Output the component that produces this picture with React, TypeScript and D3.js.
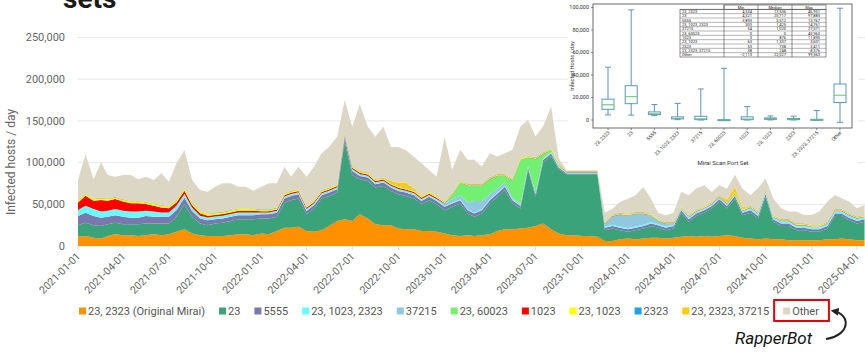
import React, { useEffect, useRef } from 'react';
import * as d3 from 'd3';

// port sets, bottom to top of the stack
const seriesKeys = ['23, 2323 (Original Mirai)', '23', '5555', '23, 1023, 2323', '37215', '23, 60023', '1023', '23, 1023', '2323', '23, 2323, 37215', 'Other'];
const seriesColors = ['#ff9000', '#3ba37a', '#7b78b0', '#66ffff', '#8fc8df', '#72f072', '#ff0000', '#ffff00', '#1e9ff2', '#ffcc00', '#dcd6c5'];

// infected hosts per day, in thousands, sampled on the 1st and 16th of each month (2021-01-01 .. 2025-04-16)
const port23_2323 = [
  11, 12, 10, 9, 12, 14, 13, 13, 12, 13, 14, 13, 14, 17, 20, 15, 13, 12, 12, 12, 13, 14, 14, 13,
  15, 14, 18, 22, 22, 23, 18, 17, 19, 24, 30, 32, 30, 38, 33, 26, 25, 25, 21, 20, 20, 18, 18, 17,
  15, 13, 12, 13, 12, 13, 14, 18, 20, 20, 21, 22, 24, 27, 20, 15, 13, 13, 12, 12, 11, 6, 6, 8,
  9, 8, 9, 10, 10, 9, 10, 11, 12, 11, 12, 11, 12, 13, 12, 10, 9, 8, 9, 8, 8, 7, 7, 7,
  7, 7, 8, 8, 9, 8, 7, 7];
const port23 = [
  14, 16, 15, 15, 14, 14, 13, 13, 14, 14, 13, 14, 13, 18, 30, 20, 14, 13, 15, 16, 17, 18, 18, 19,
  18, 19, 17, 30, 33, 34, 20, 28, 38, 36, 34, 93, 55, 42, 45, 44, 47, 41, 41, 40, 37, 32, 37, 33,
  28, 34, 39, 26, 23, 26, 37, 41, 47, 31, 24, 69, 35, 73, 88, 77, 73, 73, 74, 74, 75, 13, 15, 11,
  8, 11, 12, 14, 12, 10, 11, 29, 17, 25, 28, 34, 41, 32, 45, 27, 31, 25, 50, 21, 16, 17, 12, 12,
  10, 10, 13, 28, 27, 23, 20, 22];
const port5555 = [
  11, 12, 11, 10, 9, 9, 9, 8, 8, 9, 8, 8, 8, 8, 8, 7, 6, 6, 5, 5, 5, 5, 5, 5,
  5, 5, 5, 5, 5, 5, 4, 4, 4, 4, 4, 5, 5, 4, 4, 4, 4, 4, 4, 4, 4, 4, 4, 4,
  4, 4, 4, 4, 4, 4, 4, 4, 4, 4, 3, 3, 3, 3, 3, 2, 1, 1, 1, 1, 1, 3, 3, 3,
  3, 3, 3, 3, 3, 3, 3, 3, 3, 3, 3, 3, 3, 3, 3, 3, 3, 3, 3, 3, 3, 3, 3, 3,
  3, 3, 3, 3, 3, 3, 3, 3];
const port23_1023_2323 = [
  7, 8, 8, 7, 7, 7, 7, 7, 7, 6, 6, 5, 5, 5, 4, 4, 3, 3, 3, 3, 3, 3, 3, 3,
  2, 2, 2, 2, 2, 2, 2, 2, 2, 2, 2, 2, 2, 2, 2, 2, 2, 2, 2, 2, 2, 2, 2, 2,
  1, 1, 1, 1, 1, 1, 1, 1, 1, 1, 1, 1, 1, 1, 1, 1, 0.5, 0.5, 0.5, 0.5, 0.5, 1.5, 1.5, 1.5,
  1.5, 1.5, 1.5, 1.5, 1.5, 1.5, 1.5, 1.5, 1.5, 1.5, 1.5, 1.5, 1.5, 1.5, 1.5, 1.5, 2, 2, 2, 2, 2, 2, 2, 2,
  2, 2, 2, 2, 2, 2, 2, 2];
const port37215 = [
  0.3, 0.3, 0.3, 0.3, 0.3, 0.3, 0.3, 0.3, 0.3, 0.3, 0.3, 0.3, 0.3, 0.3, 0.3, 0.3, 0.3, 0.3, 0.3, 0.3, 0.3, 0.3, 0.3, 0.3,
  0.3, 0.3, 0.3, 0.3, 0.3, 0.3, 0.3, 0.3, 0.3, 0.3, 0.3, 0.3, 0.3, 0.3, 0.3, 0.3, 0.3, 0.3, 0.3, 0.3, 0.3, 0.3, 0.3, 0.3,
  3, 4, 5, 8, 14, 10, 6, 5, 4, 2, 1, 1, 1, 1, 1, 1, 1, 1, 1, 1, 1, 3, 10, 14,
  15, 15, 13, 8, 4, 3, 1, 1, 1, 1, 1, 1, 1, 1, 1, 1, 1, 1, 1, 1, 1, 1, 1, 1,
  1, 1, 1, 1, 1, 1, 1, 1];
const port23_60023 = [
  0, 0, 0, 0, 0, 0, 0, 0, 0, 0, 0, 0, 0, 0, 0, 0, 0, 0, 0, 0, 0, 0, 0, 0,
  0, 0, 0, 0, 0, 0, 0, 0, 0, 0, 0, 0, 0, 0, 0, 0, 0, 0, 0, 0, 0, 0, 0, 0,
  0, 5, 15, 20, 18, 18, 18, 15, 8, 20, 53, 10, 40, 5, 2, 1, 0, 0, 0, 0, 0, 0, 0, 0,
  0, 0, 0, 0, 0, 0, 0, 0, 0, 0, 0, 0, 0, 0, 0, 0, 0, 0, 0, 0, 0, 0, 0, 0,
  0, 0, 0, 0, 0, 0, 0, 0];
const port1023 = [
  9, 12, 10, 14, 12, 12, 11, 10, 10, 8, 7, 6, 5, 4, 4, 3, 3, 2, 2, 2, 2, 2, 2, 2,
  1.5, 1.5, 1.5, 1.5, 1.5, 1.5, 1.5, 1.5, 1.5, 1.5, 1.5, 1.5, 1.5, 1.5, 1.5, 1.5, 1.5, 1.5, 1.5, 1.5, 1.5, 1.5, 1.5, 1.5,
  0.5, 0.5, 0.5, 0.5, 0.5, 0.5, 0.5, 0.5, 0.5, 0.5, 0.5, 0.5, 0.5, 0.5, 0.5, 0.5, 0.5, 0.5, 0.5, 0.5, 0.5, 0.5, 0.5, 0.5,
  0.5, 0.5, 0.5, 0.5, 0.5, 0.5, 0.5, 0.5, 0.5, 0.5, 0.5, 0.5, 0.5, 0.5, 0.5, 0.5, 0.5, 0.5, 0.5, 0.5, 0.5, 0.5, 0.5, 0.5,
  0.5, 0.5, 0.5, 0.5, 0.5, 0.5, 0.5, 0.5];
const port23_1023 = [
  2, 2, 2, 2, 2, 2, 2, 2, 2, 2, 2, 2, 2, 2, 2, 2, 2, 2, 2, 2, 2, 2, 2, 2,
  1.5, 1.5, 1.5, 1.5, 1.5, 1.5, 1.5, 1.5, 1.5, 1.5, 1.5, 1.5, 1.5, 1.5, 1.5, 1.5, 1.5, 1.5, 1.5, 1.5, 1.5, 1.5, 1.5, 1.5,
  1, 1, 1, 1, 1, 1, 1, 1, 1, 1, 1, 1, 1, 1, 1, 1, 0.5, 0.5, 0.5, 0.5, 0.5, 1, 1, 1,
  1, 1, 1, 1, 1, 1, 1, 1, 1, 1, 1, 1, 1, 1, 1, 1, 1, 1, 1, 1, 1, 1, 1, 1,
  1, 1, 1, 1, 1, 1, 1, 1];
const port2323 = [
  0.5, 0.5, 0.5, 0.5, 0.5, 0.5, 0.5, 0.5, 0.5, 0.5, 0.5, 0.5, 0.5, 0.5, 0.5, 0.5, 0.5, 0.5, 0.5, 0.5, 0.5, 0.5, 0.5, 0.5,
  0.5, 0.5, 0.5, 0.5, 0.5, 0.5, 0.5, 0.5, 0.5, 0.5, 0.5, 0.5, 0.5, 0.5, 0.5, 0.5, 0.5, 0.5, 0.5, 0.5, 0.5, 0.5, 0.5, 0.5,
  0.5, 0.5, 0.5, 0.5, 0.5, 0.5, 0.5, 0.5, 0.5, 0.5, 0.5, 0.5, 0.5, 0.5, 0.5, 0.5, 0.5, 0.5, 0.5, 0.5, 0.5, 0.5, 0.5, 0.5,
  0.5, 0.5, 0.5, 0.5, 0.5, 0.5, 0.5, 0.5, 0.5, 0.5, 0.5, 0.5, 0.5, 0.5, 0.5, 0.5, 0.5, 0.5, 0.5, 0.5, 0.5, 0.5, 0.5, 0.5,
  0.5, 0.5, 0.5, 0.5, 0.5, 0.5, 0.5, 0.5];
const port23_2323_37215 = [
  0.3, 0.3, 0.3, 0.3, 0.3, 0.3, 0.3, 0.3, 0.3, 0.3, 0.3, 0.3, 0.3, 0.3, 0.3, 0.3, 0.3, 0.3, 0.3, 0.3, 0.3, 0.3, 0.3, 0.3,
  0.3, 0.3, 0.3, 0.3, 0.3, 0.3, 0.3, 0.3, 0.3, 0.3, 0.3, 0.3, 0.3, 0.3, 0.3, 0.3, 0.3, 2, 4, 6, 2, 0.3, 0.3, 0.3,
  0.3, 0.3, 0.3, 0.3, 0.3, 0.3, 0.3, 0.3, 0.3, 0.3, 0.3, 0.3, 0.3, 0.3, 0.3, 0.3, 0.3, 0.3, 0.3, 0.3, 0.3, 0.3, 0.3, 0.3,
  0.3, 0.3, 0.3, 0.3, 0.3, 0.3, 0.3, 0.3, 0.3, 0.3, 0.3, 0.3, 0.3, 3, 6, 2, 0.3, 0.3, 0.3, 0.3, 0.3, 0.3, 0.3, 0.3,
  0.3, 0.3, 0.3, 0.3, 0.3, 0.3, 0.3, 0.3];
const portOther = [
  24, 47, 23, 42, 28, 24, 29, 31, 26, 30, 28, 38, 29, 44, 46, 27, 25, 26, 31, 34, 32, 26, 26, 21,
  27, 31, 29, 32, 17, 27, 35, 40, 44, 49, 57, 39, 47, 80, 55, 51, 61, 41, 43, 39, 38, 39, 26, 23,
  77, 28, 37, 29, 29, 21, 29, 21, 25, 35, 38, 43, 25, 31, 50, 6, 0.5, 0.5, 0.5, 0.5, 0.5, 11, 7, 13,
  18, 20, 30, 18, 7, 8, 11, 17, 24, 25, 25, 12, 12, 13, 15, 22, 13, 28, 14, 20, 13, 9, 14, 10,
  12, 16, 24, 17, 13, 14, 10, 12];
const seriesValues = [port23_2323, port23, port5555, port23_1023_2323, port37215, port23_60023, port1023, port23_1023, port2323, port23_2323_37215, portOther];

const yTicks = [0, 50000, 100000, 150000, 200000, 250000];

// inset box plot (per port set, hosts/day)
const boxLabels = ['23, 2323', '23', '5555', '23, 1023, 2323', '37215', '23, 60023', '1023', '23, 1023', '2323', '23, 2323, 37215', 'Other'];
const boxMin = [4534, 4321, 3893, 303, 54, 0, 3, 63, 53, 38, -2113];
const boxQ1 = [9500, 14500, 4800, 1000, 300, 0, 300, 600, 300, 100, 15500];
const boxMedian = [13536, 20717, 5512, 1425, 1020, 0, 876, 1337, 738, 248, 22027];
const boxQ3 = [18500, 30500, 7200, 2800, 3300, 300, 2800, 1800, 1300, 600, 32000];
const boxMax = [46951, 97883, 13767, 14761, 27571, 45963, 11890, 3601, 3411, 8376, 99363];
const insetYTicks = [0, 20000, 40000, 60000, 80000, 100000];

export default function App() {
  const svgRef = useRef<SVGSVGElement>(null);

  useEffect(() => {
    const svg = d3.select(svgRef.current);
    svg.selectAll('*').remove();
    const font = 'Roboto, sans-serif';

    // semi-monthly sample dates
    const dates: Date[] = [];
    for (let yr = 2021; yr <= 2025; yr++) {
      for (let m = 0; m < 12; m++) {
        dates.push(new Date(yr, m, 1));
        dates.push(new Date(yr, m, 16));
      }
    }
    dates.length = port23.length;

    const rows = dates.map((date, i) => {
      const r: any = { date };
      seriesKeys.forEach((k, j) => { r[k] = seriesValues[j][i] * 1000; });
      return r;
    });

    const x = d3.scaleTime().domain([new Date(2021, 0, 1), new Date(2025, 3, 1)]).range([78, 857]);
    const y = d3.scaleLinear().domain([0, 250000]).range([246, 37.5]);

    // title remnant
    svg.append('text').attr('x', 63).attr('y', 8).text('sets')
      .style('font-family', font).style('font-size', '28px').style('font-weight', 'bold').style('fill', '#1a1a1a');

    // gridlines + y labels
    svg.append('g').selectAll('line').data(yTicks).enter().append('line')
      .attr('x1', 77).attr('x2', 865).attr('y1', d => y(d)).attr('y2', d => y(d))
      .attr('stroke', '#e8e8e8').attr('stroke-width', 1);
    svg.append('g').selectAll('text').data(yTicks).enter().append('text')
      .attr('x', 65).attr('y', d => y(d)).attr('dy', '0.35em').attr('text-anchor', 'end')
      .text(d => d3.format(',')(d))
      .style('font-family', font).style('font-size', '11px').style('fill', '#666');

    svg.append('text')
      .attr('transform', 'translate(15,162) rotate(-90)').attr('text-anchor', 'middle')
      .text('Infected hosts / day')
      .style('font-family', font).style('font-size', '12px').style('fill', '#666');

    // stacked areas
    const stacked = d3.stack().keys(seriesKeys)(rows);
    const area = d3.area<any>()
      .x(d => x(d.data.date))
      .y0(d => y(d[0]))
      .y1(d => y(d[1]));
    svg.append('g').selectAll('path').data(stacked).enter().append('path')
      .attr('d', area as any)
      .attr('fill', (d, i) => seriesColors[i]);

    // x ticks
    const tickDates = d3.timeMonth.range(new Date(2021, 0, 1), new Date(2025, 3, 2), 3);
    const fmt = d3.timeFormat('%Y-%m-%d');
    svg.append('g').selectAll('line').data(tickDates).enter().append('line')
      .attr('x1', d => x(d)).attr('x2', d => x(d)).attr('y1', 246).attr('y2', 250)
      .attr('stroke', '#ddd');
    svg.append('g').selectAll('text').data(tickDates).enter().append('text')
      .attr('transform', d => `translate(${x(d) + 3},257) rotate(-45)`)
      .attr('text-anchor', 'end')
      .text(d => fmt(d))
      .style('font-family', font).style('font-size', '10.5px').style('fill', '#666');

    // legend
    const legend = svg.append('g');
    let lx = 79;
    seriesKeys.forEach((k, i) => {
      legend.append('rect').attr('x', lx).attr('y', 307.5).attr('width', 7).attr('height', 7).attr('fill', seriesColors[i]);
      const t = legend.append('text').attr('x', lx + 9).attr('y', 311).attr('dy', '0.35em').text(k)
        .style('font-family', font).style('font-size', '11px').style('fill', '#555');
      const w = (t.node() as SVGTextElement).getComputedTextLength();
      if (k === 'Other') {
        legend.append('rect').attr('x', lx - 9).attr('y', 300).attr('width', w + 28).attr('height', 21)
          .attr('fill', 'none').attr('stroke', '#e8000b').attr('stroke-width', 2);
      }
      lx += 9 + w + 14;
    });

    // RapperBot annotation
    const defs = svg.append('defs');
    defs.append('marker').attr('id', 'arrowhead').attr('viewBox', '0 0 10 10')
      .attr('refX', 7).attr('refY', 5).attr('markerWidth', 4).attr('markerHeight', 4).attr('orient', 'auto')
      .append('path').attr('d', 'M0,0 L10,5 L0,10 z').attr('fill', '#222');
    svg.append('path').attr('d', 'M 826 339 C 851 335, 851 314, 833 311')
      .attr('fill', 'none').attr('stroke', '#222').attr('stroke-width', 2).attr('marker-end', 'url(#arrowhead)');
    svg.append('text').attr('x', 735).attr('y', 344).text('RapperBot')
      .style('font-family', font).style('font-size', '17px').style('font-style', 'italic').style('fill', '#111');

    // inset box plot
    const inset = svg.append('g');
    inset.append('rect').attr('x', 568).attr('y', 0).attr('width', 290).attr('height', 168).attr('fill', '#fff');
    const iy = d3.scaleLinear().domain([0, 100000]).range([120, 7.5]);
    const ix = d3.scalePoint().domain(boxLabels).range([608, 840]);
    inset.append('rect').attr('x', 593).attr('y', 4).attr('width', 259).attr('height', 124)
      .attr('fill', 'none').attr('stroke', '#444').attr('stroke-width', 0.8);
    inset.selectAll('.iyt').data(insetYTicks).enter().append('text')
      .attr('x', 589).attr('y', d => iy(d)).attr('dy', '0.35em').attr('text-anchor', 'end')
      .text(d => d3.format(',')(d))
      .style('font-family', font).style('font-size', '5.5px').style('fill', '#333');
    inset.selectAll('.iytl').data(insetYTicks).enter().append('line')
      .attr('x1', 591).attr('x2', 593).attr('y1', d => iy(d)).attr('y2', d => iy(d)).attr('stroke', '#444').attr('stroke-width', 0.6);
    inset.append('text').attr('transform', 'translate(574,66) rotate(-90)').attr('text-anchor', 'middle')
      .text('Infected Hosts / day').style('font-family', font).style('font-size', '5.5px').style('fill', '#333');

    const boxColor = '#5b95c2';
    const bw = 12;
    boxLabels.forEach((lab, i) => {
      const cx = ix(lab) as number;
      const g = inset.append('g');
      g.append('line').attr('x1', cx).attr('x2', cx).attr('y1', iy(boxMax[i])).attr('y2', iy(boxQ3[i])).attr('stroke', boxColor).attr('stroke-width', 1);
      g.append('line').attr('x1', cx).attr('x2', cx).attr('y1', iy(boxQ1[i])).attr('y2', iy(boxMin[i])).attr('stroke', boxColor).attr('stroke-width', 1);
      g.append('line').attr('x1', cx - bw / 4).attr('x2', cx + bw / 4).attr('y1', iy(boxMax[i])).attr('y2', iy(boxMax[i])).attr('stroke', boxColor).attr('stroke-width', 1);
      g.append('line').attr('x1', cx - bw / 4).attr('x2', cx + bw / 4).attr('y1', iy(boxMin[i])).attr('y2', iy(boxMin[i])).attr('stroke', boxColor).attr('stroke-width', 1);
      g.append('rect').attr('x', cx - bw / 2).attr('y', iy(boxQ3[i])).attr('width', bw)
        .attr('height', Math.max(1, iy(boxQ1[i]) - iy(boxQ3[i])))
        .attr('fill', 'none').attr('stroke', boxColor).attr('stroke-width', 1);
      g.append('line').attr('x1', cx - bw / 2).attr('x2', cx + bw / 2).attr('y1', iy(boxMedian[i])).attr('y2', iy(boxMedian[i]))
        .attr('stroke', '#6cbf6a').attr('stroke-width', 1);
      g.append('line').attr('x1', cx).attr('x2', cx).attr('y1', 128).attr('y2', 130).attr('stroke', '#444').attr('stroke-width', 0.6);
      g.append('text').attr('transform', `translate(${cx + 2},133) rotate(-45)`).attr('text-anchor', 'end')
        .text(lab).style('font-family', font).style('font-size', '5px').style('fill', '#333');
    });
    inset.append('text').attr('x', 723).attr('y', 165).attr('text-anchor', 'middle').text('Mirai Scan Port Set')
      .style('font-family', font).style('font-size', '6px').style('fill', '#333');

    // inset table
    const tx = 680, ty = 5, rh = 52 / 12;
    const colW = [44, 34, 34, 34];
    const colX = [tx, tx + 44, tx + 78, tx + 112, tx + 146];
    const tbl = inset.append('g');
    tbl.append('rect').attr('x', colX[1]).attr('y', ty).attr('width', 102).attr('height', rh).attr('fill', '#fff').attr('stroke', '#444').attr('stroke-width', 0.6);
    tbl.append('rect').attr('x', tx).attr('y', ty + rh).attr('width', 146).attr('height', rh * 11).attr('fill', '#fff').attr('stroke', '#444').attr('stroke-width', 0.6);
    ['Min', 'Median', 'Max'].forEach((h, j) => {
      tbl.append('text').attr('x', colX[j + 1] + colW[j + 1] / 2).attr('y', ty + rh / 2).attr('dy', '0.35em').attr('text-anchor', 'middle')
        .text(h).style('font-family', font).style('font-size', '4px').style('fill', '#222');
    });
    [1, 2, 3].forEach(j => {
      tbl.append('line').attr('x1', colX[j]).attr('x2', colX[j]).attr('y1', ty).attr('y2', ty + rh * 12).attr('stroke', '#444').attr('stroke-width', 0.6);
    });
    const fmtN = d3.format(',');
    boxLabels.forEach((lab, i) => {
      const ry = ty + rh * (i + 1);
      tbl.append('line').attr('x1', tx).attr('x2', tx + 146).attr('y1', ry).attr('y2', ry).attr('stroke', '#444').attr('stroke-width', 0.4);
      tbl.append('text').attr('x', tx + 2).attr('y', ry + rh / 2).attr('dy', '0.35em').text(lab)
        .style('font-family', font).style('font-size', '4px').style('fill', '#222');
      [boxMin[i], boxMedian[i], boxMax[i]].forEach((v, j) => {
        tbl.append('text').attr('x', colX[j + 2] - 6).attr('y', ry + rh / 2).attr('dy', '0.35em').attr('text-anchor', 'end')
          .text(fmtN(v)).style('font-family', font).style('font-size', '4px').style('fill', '#222');
      });
    });
  }, []);

  return <svg ref={svgRef} width={865} height={354} style={{ position: 'absolute', left: 0, top: 0, background: '#fff' }} />;
}
